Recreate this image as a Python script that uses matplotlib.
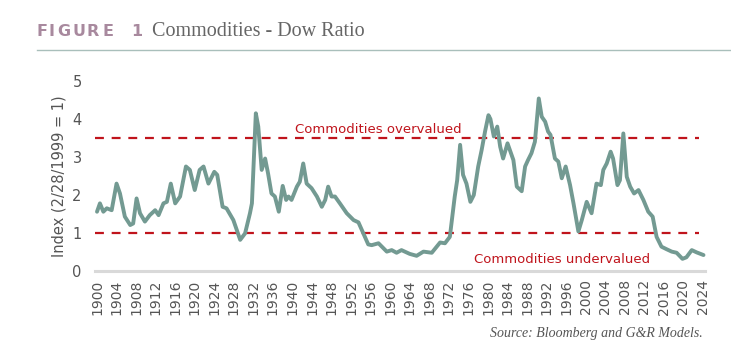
import matplotlib
matplotlib.use("Agg")
import matplotlib.pyplot as plt
from matplotlib.lines import Line2D

years = [1900.0, 1900.6, 1901.3, 1902.0, 1903.0, 1904.0, 1904.7, 1905.7, 1906.8, 1907.4,
         1908.1, 1908.8, 1909.8, 1910.8, 1911.9, 1912.6, 1913.6, 1914.3, 1915.1, 1916.0,
         1917.0, 1918.2, 1919.0, 1920.0, 1921.0, 1921.8, 1922.8, 1924.0, 1924.6, 1925.7,
         1926.5, 1927.9, 1928.6, 1929.3, 1930.3, 1931.3, 1931.7, 1932.5, 1933.0, 1933.7,
         1934.4, 1935.0, 1935.7, 1936.4, 1937.2, 1938.0, 1938.7, 1939.2, 1939.8, 1940.9,
         1941.5, 1942.2, 1942.9, 1943.9, 1945.0, 1946.0, 1946.7, 1947.3, 1948.0, 1948.7,
         1949.7, 1951.1, 1952.5, 1953.5, 1954.5, 1955.5, 1956.2, 1957.6, 1959.3, 1960.3,
         1961.3, 1962.3, 1964.0, 1965.4, 1966.8, 1968.5, 1970.2, 1971.2, 1972.2, 1973.2,
         1973.7, 1974.3, 1974.9, 1975.6, 1976.4, 1977.1, 1978.0, 1978.7, 1979.4, 1980.1,
         1980.5, 1981.2, 1981.9, 1982.5, 1983.1, 1984.0, 1985.2, 1985.9, 1986.9, 1987.6,
         1988.2, 1988.9, 1989.6, 1990.4, 1991.0, 1991.7, 1992.3, 1992.8, 1993.7, 1994.4,
         1995.1, 1995.9, 1996.8, 1997.5, 1998.5, 1999.2, 2000.2, 2001.2, 2002.2, 2003.1,
         2003.6, 2004.3, 2005.1, 2005.6, 2006.5, 2007.0, 2007.7, 2008.4, 2009.1, 2009.9,
         2010.8, 2011.8, 2012.8, 2013.7, 2014.5, 2015.5, 2016.6, 2017.6, 2018.6, 2019.8,
         2020.6, 2021.7, 2022.7, 2024.1]
ratio = [1.56, 1.78, 1.56, 1.65, 1.60, 2.30, 2.04, 1.43, 1.21, 1.25,
         1.91, 1.52, 1.30, 1.47, 1.60, 1.47, 1.78, 1.82, 2.30, 1.78,
         1.96, 2.75, 2.66, 2.13, 2.66, 2.75, 2.30, 2.61, 2.53, 1.69,
         1.65, 1.34, 1.08, 0.82, 0.99, 1.52, 1.78, 4.15, 3.80, 2.66,
         2.96, 2.57, 2.04, 1.96, 1.56, 2.24, 1.87, 1.96, 1.87, 2.22,
         2.35, 2.83, 2.30, 2.18, 1.96, 1.69, 1.87, 2.22, 1.96, 1.96,
         1.78, 1.52, 1.34, 1.28, 0.99, 0.70, 0.68, 0.73, 0.51, 0.55,
         0.48, 0.55, 0.45, 0.40, 0.51, 0.48, 0.75, 0.73, 0.90, 1.96,
         2.39, 3.32, 2.53, 2.30, 1.82, 2.00, 2.75, 3.18, 3.67, 4.10,
         4.00, 3.54, 3.80, 3.27, 2.96, 3.36, 2.92, 2.22, 2.10, 2.75,
         2.92, 3.10, 3.40, 4.54, 4.06, 3.93, 3.67, 3.58, 2.96, 2.88,
         2.44, 2.75, 2.26, 1.78, 1.04, 1.34, 1.82, 1.52, 2.30, 2.26,
         2.66, 2.83, 3.14, 2.96, 2.26, 2.39, 3.62, 2.48, 2.22, 2.04,
         2.13, 1.87, 1.56, 1.43, 0.90, 0.64, 0.57, 0.51, 0.48, 0.32,
         0.36, 0.55, 0.49, 0.42]

xticks = list(range(1900, 2025, 4))
yticks = [0, 1, 2, 3, 4, 5]
over_level = 3.5
under_level = 1.0

W, H = 731, 353
fig = plt.figure(figsize=(W / 100, H / 100), dpi=100)
ax = fig.add_axes([97 / W, 1 - 271 / H, (703 - 97) / W, (271 - 81) / H])
ax.set_xlim(1900, 2024)
ax.set_ylim(0, 5)

red = "#c0141c"
ax.hlines([over_level, under_level], 1899.6, 2023.2, colors=red, linestyles=(0, (4, 3.5)),
          linewidth=1.6, clip_on=False, zorder=2)
ax.plot(years, ratio, color="#739a92", linewidth=2.8, solid_joinstyle="round",
        solid_capstyle="round", clip_on=False, zorder=3)

ax.axhline(0, xmin=-0.004, xmax=1.003, color="#d9d9d9", linewidth=2.2, clip_on=False, zorder=1)

for s in ax.spines.values():
    s.set_visible(False)
ax.set_xticks(xticks)
ax.set_xticklabels([str(t) for t in xticks], rotation=90, fontsize=10, color="#555555")
ax.set_yticks(yticks)
ax.set_yticklabels([str(t) for t in yticks], fontsize=10.5, color="#555555")
ax.tick_params(length=0, pad=6)
ax.tick_params(axis="y", pad=11)
ax.set_ylabel("Index (2/28/1999 = 1)", fontsize=10.5, color="#555555", labelpad=4)

ax.text(1957.5, 3.72, "Commodities overvalued", color=red, fontsize=9.5, ha="center", va="center")
ax.text(1995.2, 0.3, "Commodities undervalued", color=red, fontsize=9.5, ha="center", va="center")

fig_letters = ["F", "I", "G", "U", "R", "E", "1"]
fig_letter_x = [37, 49, 57, 72, 87, 102, 131]
for ch, px in zip(fig_letters, fig_letter_x):
    fig.text(px / W, 1 - 32 / H, ch, fontsize=11.5, fontweight="bold",
             color="#a8899e", ha="left", va="center")
fig.text(152 / W, 1 - 31 / H, "Commodities - Dow Ratio", fontsize=14.5,
         family="Liberation Serif", color="#666666", ha="left", va="center")
fig.add_artist(Line2D([37 / W, 1.0], [1 - 50 / H, 1 - 50 / H], color="#a9bfbb",
                      linewidth=1.0, transform=fig.transFigure))
fig.text(703 / W, 1 - 333 / H, "Source: Bloomberg and G&R Models.", fontsize=10,
         family="Liberation Serif", style="italic", color="#555555", ha="right", va="center")

fig.savefig("out.png", dpi=100, facecolor="white")
